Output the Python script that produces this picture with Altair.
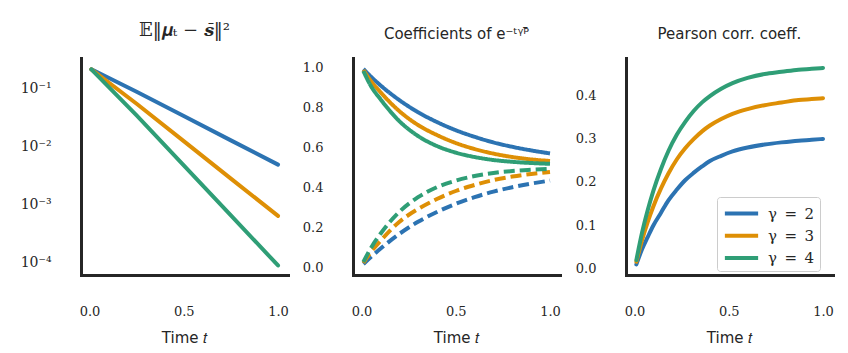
import altair as alt
import pandas as pd

GAMMAS = ["γ\u2002=\u20022", "γ\u2002=\u20023", "γ\u2002=\u20024"]
COLORS = ["#2c73b2", "#de8f05", "#2f9e76"]

# Panel 1: E||mu_t - s_bar||^2 (log scale)
t1 = [0.01, 0.25, 0.5, 0.75, 1.0]
err_g2 = [0.213, 0.0875, 0.0333, 0.01265, 0.00482]
err_g3 = [0.213, 0.0542, 0.01227, 0.00277, 0.000628]
err_g4 = [0.213, 0.0342, 0.00468, 0.000641, 0.0000877]

# Panel 2: coefficients (solid / dashed)
t2 = [0.01, 0.05, 0.1, 0.2, 0.3, 0.4, 0.5, 0.6, 0.7, 0.8, 0.9, 1.0]
solid_g2 = [0.99, 0.952, 0.909, 0.835, 0.774, 0.725, 0.684, 0.651, 0.623, 0.601, 0.583, 0.568]
solid_g3 = [0.985, 0.93, 0.875, 0.78, 0.71, 0.66, 0.62, 0.59, 0.567, 0.55, 0.538, 0.53]
solid_g4 = [0.98, 0.905, 0.84, 0.73, 0.655, 0.605, 0.572, 0.55, 0.535, 0.526, 0.52, 0.516]
dash_g2 = [0.015, 0.05, 0.091, 0.165, 0.226, 0.275, 0.316, 0.349, 0.377, 0.399, 0.417, 0.432]
dash_g3 = [0.02, 0.075, 0.13, 0.225, 0.29, 0.34, 0.38, 0.41, 0.435, 0.452, 0.465, 0.475]
dash_g4 = [0.025, 0.095, 0.165, 0.275, 0.349, 0.399, 0.432, 0.455, 0.47, 0.48, 0.486, 0.491]

# Panel 3: Pearson correlation coefficient
t3 = [0.01, 0.04, 0.07, 0.10, 0.14, 0.18, 0.225, 0.27, 0.315, 0.36, 0.40,
      0.46, 0.52, 0.60, 0.69, 0.78, 0.87, 0.94, 1.0]
corr_g2 = [0.009, 0.044, 0.072, 0.099, 0.128, 0.157, 0.182, 0.204, 0.221, 0.236, 0.248,
           0.260, 0.270, 0.279, 0.286, 0.291, 0.295, 0.297, 0.299]
corr_g3 = [0.015, 0.065, 0.107, 0.143, 0.184, 0.219, 0.252, 0.278, 0.299, 0.317, 0.330,
           0.345, 0.357, 0.368, 0.377, 0.383, 0.389, 0.391, 0.393]
corr_g4 = [0.019, 0.082, 0.134, 0.179, 0.229, 0.271, 0.309, 0.339, 0.364, 0.384, 0.398,
           0.415, 0.428, 0.440, 0.449, 0.454, 0.459, 0.461, 0.463]

X_TICKS = [0, 0.5, 1]

def long(ts, series, extra=None):
    rows = []
    for g, vals in zip(GAMMAS, series):
        for t, v in zip(ts, vals):
            r = {"t": t, "v": v, "g": g}
            if extra:
                r.update(extra)
            rows.append(r)
    return rows

df1 = pd.DataFrame(long(t1, [err_g2, err_g3, err_g4]))
df2 = pd.DataFrame(long(t2, [solid_g2, solid_g3, solid_g4], {"kind": "solid"})
                   + long(t2, [dash_g2, dash_g3, dash_g4], {"kind": "dashed"}))
df3 = pd.DataFrame(long(t3, [corr_g2, corr_g3, corr_g4]))

W, H = 207, 217
INK = "#262626"

color_scale = alt.Scale(domain=GAMMAS, range=COLORS)

def xenc():
    return alt.X("t:Q", scale=alt.Scale(domain=[-0.045, 1.053], nice=False, zero=False),
                 axis=alt.Axis(values=X_TICKS, format=".1f", title="Time 𝑡"))

def ttl(text, font="DejaVu Sans", size=15):
    return alt.TitleParams(text=text, font=font, fontSize=size, fontWeight="normal",
                           color=INK, baseline="alphabetic", offset=4, anchor="middle")

p1 = alt.Chart(df1).mark_line(strokeWidth=4, strokeCap="round").encode(
    x=xenc(),
    y=alt.Y("v:Q", scale=alt.Scale(type="log", domain=[6e-5, 0.334], nice=False),
            axis=alt.Axis(values=[0.1, 0.01, 0.001, 0.0001], title=None, minExtent=68,
                          labelFontSize=14,
                          labelExpr="'10' + ['⁰','⁻¹','⁻²','⁻³','⁻⁴'][-round(log(datum.value)/LN10)]")),
    color=alt.Color("g:N", scale=color_scale, legend=None),
).properties(width=W, height=H, title=ttl("𝔼‖𝝁ₜ − 𝒔̄‖²", "DejaVu Serif", 18))

p2 = alt.Chart(df2).mark_line(strokeWidth=4, strokeCap="butt", interpolate="monotone").encode(
    x=xenc(),
    y=alt.Y("v:Q", scale=alt.Scale(domain=[-0.04, 1.045], nice=False, zero=False),
            axis=alt.Axis(values=[0, 0.2, 0.4, 0.6, 0.8, 1.0], format=".1f", title=None, minExtent=55)),
    color=alt.Color("g:N", scale=color_scale, legend=None),
    strokeDash=alt.StrokeDash("kind:N", scale=alt.Scale(domain=["solid", "dashed"], range=[[1, 0], [11, 5]]), legend=None),
).properties(width=W, height=H, title=ttl("Coefficients of e⁻ᵗᵞᴾ̄"))

p3 = alt.Chart(df3).mark_line(strokeWidth=4, strokeCap="round", interpolate="monotone").encode(
    x=xenc(),
    y=alt.Y("v:Q", scale=alt.Scale(domain=[-0.0155, 0.486], nice=False, zero=False),
            axis=alt.Axis(values=[0, 0.1, 0.2, 0.3, 0.4], format=".1f", title=None, minExtent=56)),
    color=alt.Color("g:N", scale=color_scale,
                    legend=alt.Legend(orient="none", legendX=91, legendY=139, title=None,
                                      symbolType="M-1.75,0H1.75", symbolSize=361,
                                      symbolStrokeWidth=4, symbolOffset=8,
                                      labelFont="DejaVu Serif", labelFontSize=15,
                                      labelColor=INK, labelOffset=15,
                                      padding=5, rowPadding=2.2,
                                      strokeColor="#cccccc", fillColor="white",
                                      cornerRadius=3)),
).properties(width=W, height=H, title=ttl("Pearson corr. coeff."))

chart = alt.hconcat(p1, p2, p3, spacing=9).resolve_scale(
    color="independent", strokeDash="independent"
).configure(
    padding={"left": 13, "top": 22, "right": 5, "bottom": 5}
).configure_view(strokeOpacity=0).configure_axis(
    domainColor=INK, domainWidth=3, domainCap="square", ticks=False, grid=False,
    labelFont="DejaVu Serif", labelFontSize=13, labelColor=INK,
    titleFont="DejaVu Sans", titleFontSize=15, titleFontWeight="normal", titleColor=INK,
    titlePadding=12
).configure_axisX(labelPadding=30).configure_axisY(labelPadding=30)

chart.save("out.html", embed_options={"renderer": "svg", "actions": False})
